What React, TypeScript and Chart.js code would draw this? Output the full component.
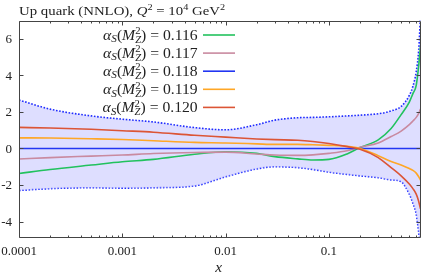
import React, { useEffect, useRef } from "react";
import { Chart, registerables } from "chart.js";
Chart.register(...registerables);

// ---- data ----
const xValues = [1e-4, 2e-4, 5e-4, 1e-3, 2e-3, 5e-3, 0.01, 0.02, 0.03, 0.05, 0.07, 0.1, 0.15, 0.2, 0.3, 0.4, 0.5, 0.6, 0.65, 0.7, 0.74, 0.77];
const bandUpper = [2.65, 2.15, 1.78, 1.6, 1.45, 1.14, 1.02, 1.3, 1.55, 1.68, 1.7, 1.73, 1.78, 1.82, 1.9, 2.05, 2.3, 2.9, 3.4, 4.2, 5.4, 7.3];
const bandLower = [-2.3, -2.2, -2.15, -2.17, -2.15, -2.05, -1.55, -1.12, -1.0, -1.05, -1.15, -1.3, -1.42, -1.5, -1.6, -1.72, -1.82, -2.5, -3.0, -3.6, -4.6, -5.5];
const as116 = [-1.37, -1.15, -0.91, -0.73, -0.6, -0.32, -0.18, -0.27, -0.45, -0.57, -0.63, -0.6, -0.3, 0.05, 0.47, 1.09, 1.85, 2.54, 3.0, 3.45, 4.54, 5.6];
const as117 = [-0.58, -0.5, -0.42, -0.36, -0.28, -0.22, -0.2, -0.3, -0.36, -0.38, -0.35, -0.27, -0.13, 0.07, 0.3, 0.65, 0.95, 1.3, 1.5, 1.7, 1.92, 2.15];
const as118 = [0, 0, 0, 0, 0, 0, 0, 0, 0, 0, 0, 0, 0, 0, 0, 0, 0, 0, 0, 0, 0, 0];
const as119 = [0.58, 0.57, 0.53, 0.49, 0.42, 0.33, 0.3, 0.25, 0.22, 0.22, 0.2, 0.17, 0.12, 0.0, -0.4, -0.72, -0.9, -1.1, -1.2, -1.35, -1.55, -1.73];
const as120 = [1.15, 1.12, 1.05, 0.97, 0.89, 0.72, 0.62, 0.52, 0.48, 0.45, 0.38, 0.27, 0.1, -0.05, -0.5, -1.05, -1.5, -1.95, -2.2, -2.5, -2.9, -3.3];

const alphaValues = ["0.116", "0.117", "0.118", "0.119", "0.120"];
const seriesData = [as116, as117, as118, as119, as120];
const seriesColors = ["#22c25e", "#c98aa0", "#2236f2", "#ffa726", "#dc5536"];

const xMajorTicks = [0.0001, 0.001, 0.01, 0.1];
const xMajorLabels = ["0.0001", "0.001", "0.01", "0.1"];
const yTicks = [-4, -2, 0, 2, 4, 6];
const yTickLabels = ["-4", "-2", "0", "2", "4", "6"];
const xMin = 0.0001;
const xMax = 0.77;
const yMin = -4.9;
const yMax = 7;

const SERIF = "'Liberation Serif', 'DejaVu Serif', serif";
const TEXT = "#222";

function pts(ys: number[]) {
  return xValues.map((x, i) => ({ x, y: ys[i] }));
}

function minorTickValues(): number[] {
  const out: number[] = [];
  for (let e = -4; e <= 0; e++) {
    for (let m = 1; m <= 9; m++) {
      const v = m * Math.pow(10, e);
      if (v >= xMin * 0.9999 && v <= xMax) out.push(v);
    }
  }
  return out;
}

type Seg = { t: string; italic?: boolean; size: number; dy: number; stack?: Seg };

function fontOf(s: Seg) {
  return `${s.italic ? "italic " : ""}${s.size}px ${SERIF}`;
}

function segWidth(ctx: CanvasRenderingContext2D, s: Seg, sx: number) {
  ctx.font = fontOf(s);
  let w = ctx.measureText(s.t).width;
  if (s.stack) {
    ctx.font = fontOf(s.stack);
    w = Math.max(w, ctx.measureText(s.stack.t).width);
  }
  return w * sx;
}

function drawSegs(ctx: CanvasRenderingContext2D, segs: Seg[], x: number, y: number, align: "left" | "right" | "center", sx: number) {
  const total = segs.reduce((a, s) => a + segWidth(ctx, s, sx), 0);
  let cx = align === "left" ? x : align === "right" ? x - total : x - total / 2;
  ctx.textAlign = "left";
  ctx.textBaseline = "alphabetic";
  for (const s of segs) {
    const w = segWidth(ctx, s, sx);
    ctx.save();
    ctx.translate(cx, y);
    ctx.scale(sx, 1);
    ctx.font = fontOf(s);
    ctx.fillText(s.t, 0, s.dy);
    if (s.stack) {
      ctx.font = fontOf(s.stack);
      ctx.fillText(s.stack.t, 0, s.stack.dy);
    }
    ctx.restore();
    cx += w;
  }
}

const decorPlugin = {
  id: "decor",
  afterDraw(chart: any) {
    const { ctx, chartArea: a, scales } = chart;
    const xs = scales.x;
    const ys = scales.y;
    ctx.save();
    ctx.strokeStyle = "#444";
    ctx.lineWidth = 1;
    const L = Math.round(a.left) + 0.5;
    const R = Math.round(a.right) - 0.5;
    const T = Math.round(a.top) + 0.5;
    const B = Math.round(a.bottom) - 0.5;
    ctx.beginPath();
    ctx.rect(L, T, R - L, B - T);
    ctx.stroke();
    // tick marks
    ctx.beginPath();
    for (const v of minorTickValues()) {
      const px = Math.round(xs.getPixelForValue(v)) + 0.5;
      const major = xMajorTicks.some((m) => Math.abs(m - v) / m < 1e-6);
      const len = major ? 4 : 2;
      ctx.moveTo(px, B);
      ctx.lineTo(px, B - len);
      ctx.moveTo(px, T);
      ctx.lineTo(px, T + len);
    }
    for (const v of yTicks) {
      const py = Math.round(ys.getPixelForValue(v)) + 0.5;
      ctx.moveTo(L, py);
      ctx.lineTo(L + 4, py);
      ctx.moveTo(R, py);
      ctx.lineTo(R - 4, py);
    }
    ctx.stroke();

    ctx.fillStyle = TEXT;
    // tick labels
    xMajorTicks.forEach((v, i) => {
      const px = xs.getPixelForValue(v);
      drawSegs(ctx, [{ t: xMajorLabels[i], size: 13, dy: 0 }], px, a.bottom + 17, "center", 1);
    });
    yTicks.forEach((v, i) => {
      const py = ys.getPixelForValue(v);
      drawSegs(ctx, [{ t: yTickLabels[i], size: 13, dy: 0 }], a.left - 7, py + 4.3, "right", 1);
    });
    // axis title
    drawSegs(ctx, [{ t: "x", italic: true, size: 14, dy: 0 }], (a.left + a.right) / 2 - 1, 272, "center", 1.1);

    // title
    drawSegs(
      ctx,
      [
        { t: "Up quark (NNLO), ", size: 13, dy: 0 },
        { t: "Q", italic: true, size: 13, dy: 0 },
        { t: "2", size: 9, dy: -5 },
        { t: " = 10", size: 13, dy: 0 },
        { t: "4", size: 9, dy: -5 },
        { t: " GeV", size: 13, dy: 0 },
        { t: "2", size: 9, dy: -5 },
      ],
      19,
      14.5,
      "left",
      1.14
    );

    // legend
    const rowY0 = 35;
    const rowH = 18.1;
    for (let i = 0; i < alphaValues.length; i++) {
      const cy = rowY0 + i * rowH;
      ctx.fillStyle = TEXT;
      drawSegs(
        ctx,
        [
          { t: "α", italic: true, size: 14, dy: 0 },
          { t: "S", italic: true, size: 10, dy: 2.5 },
          { t: "(", size: 14, dy: 0 },
          { t: "M", italic: true, size: 14, dy: 0 },
          { t: "2", size: 9.5, dy: -5.5, stack: { t: "Z", italic: true, size: 9.5, dy: 3 } },
          { t: ")", size: 14, dy: 0 },
          { t: " = " + alphaValues[i], size: 14, dy: 0 },
        ],
        197.7,
        cy + 4.7,
        "right",
        1.12
      );
      ctx.strokeStyle = seriesColors[i];
      ctx.lineWidth = 1.6;
      ctx.beginPath();
      ctx.moveTo(203, cy);
      ctx.lineTo(235, cy);
      ctx.stroke();
    }
    ctx.restore();
  },
};

export default function App() {
  const ref = useRef<HTMLCanvasElement>(null);
  useEffect(() => {
    if (!ref.current) return;
    const datasets: any[] = [];
    seriesData.forEach((d, i) => {
      datasets.push({
        data: pts(d),
        borderColor: seriesColors[i],
        borderWidth: 1.6,
        pointRadius: 0,
        fill: false,
        cubicInterpolationMode: "monotone",
        order: 6 - i,
      });
    });
    datasets.push({
      data: pts(bandUpper),
      borderColor: "#1f2cff",
      borderWidth: 1.6,
      borderDash: [1.6, 1.6],
      pointRadius: 0,
      fill: "+1",
      backgroundColor: "rgba(190,190,255,0.5)",
      cubicInterpolationMode: "monotone",
      order: 10,
    });
    datasets.push({
      data: pts(bandLower),
      borderColor: "#1f2cff",
      borderWidth: 1.6,
      borderDash: [1.6, 1.6],
      pointRadius: 0,
      fill: false,
      cubicInterpolationMode: "monotone",
      order: 10,
    });

    const chart = new Chart(ref.current, {
      type: "line",
      data: { datasets },
      plugins: [decorPlugin],
      options: {
        animation: false,
        responsive: true,
        maintainAspectRatio: false,
        devicePixelRatio: 1,
        layout: { padding: { top: 20.5, right: 2.5, left: 0, bottom: 0 } },
        plugins: { legend: { display: false }, tooltip: { enabled: false }, title: { display: false } },
        scales: {
          x: {
            type: "logarithmic",
            min: xMin,
            max: xMax,
            grid: { display: false, drawTicks: false },
            border: { display: false },
            afterFit: (s: any) => {
              s.height = 35;
            },
            afterBuildTicks: (s: any) => {
              s.ticks = xMajorTicks.map((v) => ({ value: v }));
            },
            ticks: { display: false },
          },
          y: {
            type: "linear",
            min: yMin,
            max: yMax,
            grid: { display: false, drawTicks: false },
            border: { display: false },
            afterFit: (s: any) => {
              s.width = 19;
            },
            afterBuildTicks: (s: any) => {
              s.ticks = yTicks.map((v) => ({ value: v }));
            },
            ticks: { display: false },
          },
        },
      },
    });
    return () => chart.destroy();
  }, []);
  return (
    <div style={{ position: "fixed", left: 0, top: 0, width: 423, height: 273, background: "#fff" }}>
      <canvas ref={ref} />
    </div>
  );
}
